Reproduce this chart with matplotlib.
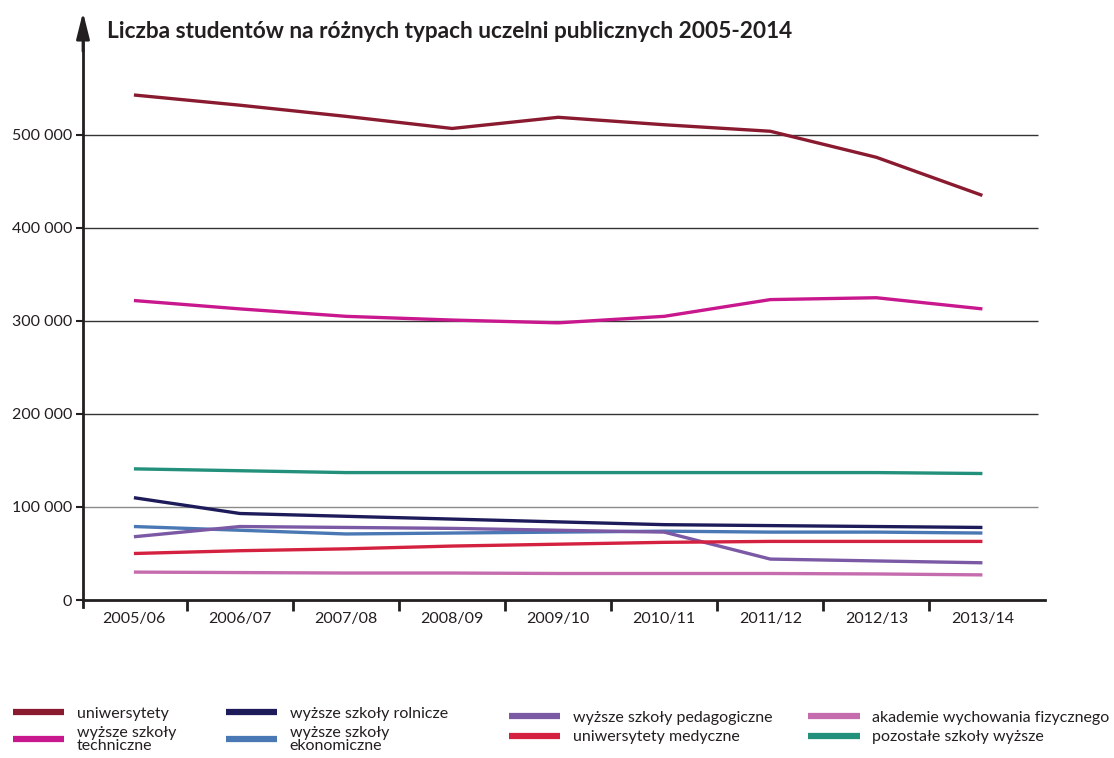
import numpy as np
import matplotlib.pyplot as plt

plt.rcParams['font.family'] = ['Lato', 'DejaVu Sans']

years = ['2005/06', '2006/07', '2007/08', '2008/09', '2009/10',
         '2010/11', '2011/12', '2012/13', '2013/14']

# liczba studentów (tys.)
uniwersytety = [543, 532, 520, 507, 519, 511, 504, 476, 435]
techniczne = [322, 313, 305, 301, 298, 305, 323, 325, 313]
rolnicze = [110, 93, 90, 87, 84, 81, 80, 79, 78]
ekonomiczne = [79, 75, 71, 72, 73, 74, 73, 73, 72]
pedagogiczne = [68, 79, 78, 77, 75, 73, 44, 42, 40]
medyczne = [50, 53, 55, 58, 60, 62, 63, 63, 63]
akademie = [30, 29.5, 29, 29, 28.5, 28.5, 28.5, 28, 27]
pozostale = [141, 139, 137, 137, 137, 137, 137, 137, 136]

series = [
    ('uniwersytety', uniwersytety, '#8a1a2f'),
    ('wyższe szkoły\ntechniczne', techniczne, '#c9178e'),
    ('wyższe szkoły rolnicze', rolnicze, '#1e1b5a'),
    ('wyższe szkoły\nekonomiczne', ekonomiczne, '#4a78b4'),
    ('wyższe szkoły pedagogiczne', pedagogiczne, '#7b59a5'),
    ('uniwersytety medyczne', medyczne, '#d4213f'),
    ('akademie wychowania fizycznego', akademie, '#c56cae'),
    ('pozostałe szkoły wyższe', pozostale, '#22907b'),
]

fig = plt.figure(figsize=(11.14, 7.58), dpi=100)
ax = fig.add_axes([83 / 1114, 158 / 758, (1045 - 83) / 1114, (743 - 158) / 758])

x = np.arange(len(years))
ax.set_xlim(-0.48, 8.59)
ax.set_ylim(0, 629000)

# gridlines
for v in [100000, 200000, 300000, 400000, 500000]:
    col = '#8a8a8a' if v == 100000 else '#333333'
    ax.hlines(v, -0.48, 8.52, color=col, lw=1.0, zorder=1)

handles = []
for name, vals, col in series:
    ln, = ax.plot(x, np.array(vals) * 1000, color=col, lw=2.4, zorder=3,
                  solid_capstyle='butt', label=name)
    handles.append(ln)

for s in ['top', 'right']:
    ax.spines[s].set_visible(False)
ax.spines['left'].set_linewidth(2)
ax.spines['bottom'].set_linewidth(2)
ax.spines['left'].set_color('#231f20')
ax.spines['bottom'].set_color('#231f20')
ax.spines['left'].set_bounds(-8000, 600000)

# arrow on y axis
ax.annotate('', xy=(-0.48, 632000), xytext=(-0.48, 590000),
            xycoords='data', annotation_clip=False,
            arrowprops=dict(arrowstyle='-|>,head_width=0.4,head_length=1.6',
                            color='#231f20', lw=2, shrinkA=0, shrinkB=0))

yt = [0, 100000, 200000, 300000, 400000, 500000]
ax.set_yticks(yt)
ax.set_yticklabels(['0' if v == 0 else f'{v // 1000} 000' for v in yt])
ax.tick_params(axis='y', length=5, width=1.5, color='#231f20',
               labelsize=11.5, labelcolor='#231f20', pad=3)

ax.set_xticks(np.arange(0.5, 8, 1))
ax.set_xticklabels([])
ax.set_xticks(x, minor=True)
ax.set_xticklabels(years, minor=True)
ax.tick_params(axis='x', which='major', length=8, width=2, color='#231f20')
ax.tick_params(axis='x', which='minor', length=0, labelsize=11.5,
               labelcolor='#231f20', pad=9)

fig.text(107 / 1114, 1 - 31 / 758,
         'Liczba studentów na różnych typach uczelni publicznych 2005-2014',
         fontsize=16.3, fontweight='bold', color='#231f20', va='center')

# legend in four columns
cols = [(handles[0:2], 0.006, 700), (handles[2:4], 0.197, 700),
        (handles[4:6], 0.451, 704), (handles[6:8], 0.720, 704)]
for hs, xpos, ytop in cols:
    lg = fig.legend(hs, [h.get_label() for h in hs], loc='upper left',
                    bbox_to_anchor=(xpos, 1 - ytop / 758), frameon=False,
                    fontsize=11.5, handlelength=3.2, handletextpad=0.8,
                    labelspacing=0.35, borderaxespad=0)
    for t in lg.get_texts():
        t.set_color('#231f20')
        t.set_linespacing(0.85)
    for l in lg.get_lines():
        l.set_linewidth(4.5)

fig.savefig('out.png', dpi=100)
